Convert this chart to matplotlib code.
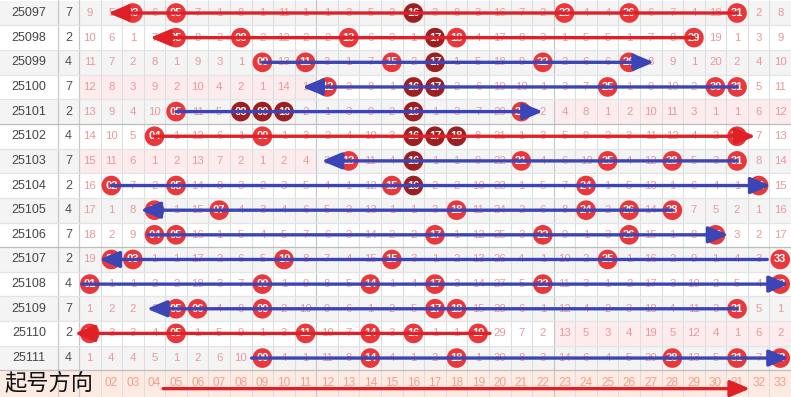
import matplotlib
matplotlib.use('Agg')
import matplotlib.pyplot as plt
from matplotlib.patches import Rectangle, FancyArrowPatch

plt.rcParams['font.family'] = ['Liberation Sans', 'DejaVu Sans']

# 期号, 第二列数值
issues = ['25097', '25098', '25099', '25100', '25101', '25102', '25103', '25104',
          '25105', '25106', '25107', '25108', '25109', '25110', '25111']
col2 = [7, 2, 4, 7, 2, 4, 7, 2, 4, 7, 2, 4, 7, 2, 4]

# 开奖号码 (每期6个)
draws = [
    [3, 5, 16, 23, 26, 31],
    [5, 8, 13, 17, 18, 29],
    [9, 11, 15, 17, 22, 26],
    [12, 16, 17, 25, 30, 31],
    [5, 8, 9, 10, 16, 21],
    [4, 9, 16, 17, 18, 31],
    [13, 16, 21, 25, 28, 31],
    [2, 5, 15, 16, 24, 32],
    [4, 7, 18, 24, 26, 28],
    [4, 5, 17, 22, 26, 30],
    [2, 3, 10, 15, 25, 33],
    [1, 9, 14, 17, 22, 33],
    [5, 6, 9, 17, 18, 31],
    [1, 5, 11, 14, 16, 19],
    [9, 14, 18, 28, 31, 33],
]
# 深色球
dark = [[16], [17], [17], [16, 17], [8, 9, 10, 16], [16, 17, 18], [16], [16],
        [], [], [], [], [], [], []]

# 遗漏值 01~33 (开出的位置为0)
omission = [
    [9, 5, 0, 6, 0, 7, 1, 8, 1, 11, 1, 1, 3, 5, 2, 0, 3, 8, 3, 16, 7, 2, 0, 4, 4, 0, 6, 7, 4, 18, 0, 2, 8],
    [10, 6, 1, 7, 0, 8, 2, 0, 2, 12, 2, 2, 0, 6, 3, 1, 0, 0, 4, 17, 8, 3, 1, 5, 5, 1, 7, 8, 0, 19, 1, 3, 9],
    [11, 7, 2, 8, 1, 9, 3, 1, 0, 13, 0, 3, 1, 7, 0, 2, 0, 1, 5, 18, 9, 0, 2, 6, 6, 0, 8, 9, 1, 20, 2, 4, 10],
    [12, 8, 3, 9, 2, 10, 4, 2, 1, 14, 1, 0, 2, 8, 1, 0, 0, 2, 6, 19, 10, 1, 3, 7, 0, 1, 9, 10, 2, 0, 0, 5, 11],
    [13, 9, 4, 10, 0, 11, 5, 0, 0, 0, 2, 1, 3, 9, 2, 0, 1, 3, 7, 20, 0, 2, 4, 8, 1, 2, 10, 11, 3, 1, 1, 6, 12],
    [14, 10, 5, 0, 1, 12, 6, 1, 0, 1, 3, 2, 4, 10, 3, 0, 0, 0, 8, 21, 1, 3, 5, 9, 2, 3, 11, 12, 4, 2, 0, 7, 13],
    [15, 11, 6, 1, 2, 13, 7, 2, 1, 2, 4, 3, 0, 11, 4, 0, 1, 1, 9, 22, 0, 4, 6, 10, 0, 4, 12, 0, 5, 3, 0, 8, 14],
    [16, 0, 7, 2, 0, 14, 8, 3, 2, 3, 5, 4, 1, 12, 0, 0, 2, 2, 10, 23, 1, 5, 7, 0, 1, 5, 13, 1, 6, 4, 1, 0, 15],
    [17, 1, 8, 0, 1, 15, 0, 4, 3, 4, 6, 5, 2, 13, 1, 1, 3, 0, 11, 24, 2, 6, 8, 0, 2, 0, 14, 0, 7, 5, 2, 1, 16],
    [18, 2, 9, 0, 0, 16, 1, 5, 4, 5, 7, 6, 3, 14, 2, 2, 0, 1, 12, 25, 3, 0, 9, 1, 3, 0, 15, 1, 8, 0, 3, 2, 17],
    [19, 0, 0, 1, 1, 17, 2, 6, 5, 0, 8, 7, 4, 15, 0, 3, 1, 2, 13, 26, 4, 1, 10, 2, 0, 1, 16, 2, 9, 1, 4, 3, 0],
    [0, 1, 1, 2, 2, 18, 3, 7, 0, 1, 9, 8, 5, 0, 1, 4, 0, 3, 14, 27, 5, 0, 11, 3, 1, 2, 17, 3, 10, 2, 5, 4, 0],
    [1, 2, 2, 3, 0, 0, 4, 8, 0, 2, 10, 9, 6, 1, 2, 5, 0, 0, 15, 28, 6, 1, 12, 4, 2, 3, 18, 4, 11, 3, 0, 5, 1],
    [0, 3, 3, 4, 0, 1, 5, 9, 1, 3, 0, 10, 7, 0, 3, 0, 1, 1, 0, 29, 7, 2, 13, 5, 3, 4, 19, 5, 12, 4, 1, 6, 2],
    [1, 4, 4, 5, 1, 2, 6, 10, 0, 4, 1, 11, 8, 0, 4, 1, 2, 0, 1, 30, 8, 3, 14, 6, 4, 5, 20, 0, 13, 5, 0, 7, 0],
]

# 起号方向箭头: 期序号, 起点号位, 终点号位, 颜色
arrow_rows = [0, 1, 2, 3, 4, 5, 6, 7, 8, 9, 10, 11, 12, 13, 14]
arrow_from = [31, 29, 9, 31, 5, 4, 31, 2, 28, 3.7, 32.4, 0.65, 31, 19.55, 8.5]
arrow_to = [1.85, 3.8, 27.15, 10.85, 22.0, 31.85, 11.75, 32.55, 3.35, 30.6, 1.45, 33.4, 3.65, 0.3, 33.4]
arrow_color = ['r', 'r', 'b', 'b', 'b', 'r', 'b', 'b', 'b', 'b', 'b', 'b', 'b', 'r', 'b']
legend_from, legend_to = 4.4, 31.6

RED = '#e8383b'
DARK = '#9e1f22'
ARROW = {'r': '#e01f27', 'b': '#3b45b5'}
NUM_C = '#e99898'

n_rows = len(issues)
x0, x1 = -3.161, 33.5
fig = plt.figure(figsize=(7.91, 3.97), dpi=100)
ax = fig.add_axes([0, 0, 1, 1])
ax.set_xlim(x0, x1)
ax.set_ylim(15.58, -0.528)
ax.axis('off')

# 行背景
for i in range(n_rows):
    fc = '#f4f4f4' if i % 2 == 0 else 'white'
    ax.add_patch(Rectangle((x0, i - 0.5), x1 - x0, 1, fc=fc, ec='none', zorder=0))
    # 断区 (某区无号) 粉色
    for lo in (1, 12, 23):
        if not any(lo <= b < lo + 11 for b in draws[i]):
            ax.add_patch(Rectangle((lo - 0.5, i - 0.5), 11, 1, fc='#fdeced', ec='none', zorder=0.5))
ax.add_patch(Rectangle((x0, n_rows - 0.5), x1 - x0, 2, fc='#fdebe3', ec='none', zorder=0))

# 网格
for n in range(1, 33):
    lc = '#c4c4c4' if n in (11, 22) else '#dedede'
    ax.plot([n + 0.5, n + 0.5], [-0.6, 15.6], color=lc, lw=0.8, zorder=1)
for xv in (-0.473, 0.5):
    ax.plot([xv, xv], [-0.6, 15.6], color='#c8c8c8', lw=0.9, zorder=1)
for i in range(n_rows):
    lc = '#bdbdbd' if i in (4, 9, 14) else '#e4e4e4'
    ax.plot([x0, x1], [i + 0.5, i + 0.5], color=lc, lw=0.9, zorder=1)

# 文字与号码球
for i in range(n_rows):
    ax.text(-1.817, i, issues[i], ha='center', va='center', fontsize=9, color='#454545', zorder=2)
    ax.text(0.01, i, str(col2[i]), ha='center', va='center', fontsize=9, color='#505050', zorder=2)
    for n in range(1, 34):
        v = omission[i][n - 1]
        if n in draws[i]:
            c = DARK if n in dark[i] else RED
            ax.scatter([n], [i], s=200, color=c, edgecolors='none', zorder=3)
            ax.text(n, i, '%02d' % n, ha='center', va='center', fontsize=8,
                    fontweight='bold', color='white', zorder=4)
        else:
            ax.text(n, i, str(v), ha='center', va='center', fontsize=8.2, color=NUM_C, zorder=2)

# 底部号码 (01 被"起号方向"遮住)
for n in range(2, 34):
    ax.text(n, n_rows, '%02d' % n, ha='center', va='center', fontsize=8.5, color='#eea08e', zorder=2)

# 箭头
for r, a, b, c in zip(arrow_rows, arrow_from, arrow_to, arrow_color):
    ax.add_patch(FancyArrowPatch((a, r), (b, r), arrowstyle='-|>,head_length=1.2,head_width=0.5',
                                 mutation_scale=10, lw=2.4, color=ARROW[c],
                                 shrinkA=0, shrinkB=0, zorder=5))
ax.add_patch(FancyArrowPatch((legend_from, n_rows + 0.24), (legend_to, n_rows + 0.24),
                             arrowstyle='-|>,head_length=1.2,head_width=0.5',
                             mutation_scale=10, lw=2.4, color=ARROW['r'],
                             shrinkA=0, shrinkB=0, zorder=5))
ax.text(-2.95, n_rows + 0.03, '起号方向', ha='left', va='center', fontsize=16,
        family=['Noto Sans CJK SC', 'DejaVu Sans'], color='#111111', zorder=6)

fig.savefig('out.png', dpi=100)
